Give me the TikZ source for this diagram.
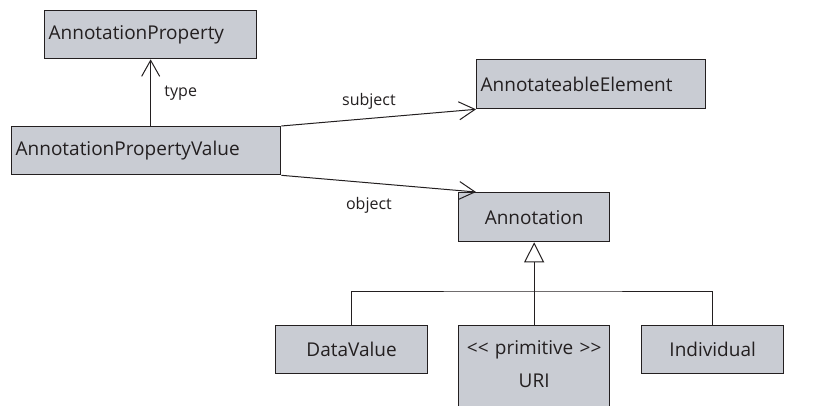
\documentclass[tikz,border=0pt]{standalone}
\usepackage{fontspec}
\setmainfont{Open Sans}
\usetikzlibrary{arrows.meta}
\definecolor{boxfill}{RGB}{201,204,211}
\definecolor{ink}{RGB}{35,31,32}
\begin{document}
\begin{tikzpicture}[x=1pt,y=-1pt,
  cls/.style={draw=ink, fill=boxfill, line width=1.3pt, anchor=north west, inner sep=4pt, text=ink, font=\fontsize{19}{21}\selectfont},
  assoc/.style={draw=ink, line width=1pt, -{Straight Barb[length=16pt,width=18pt,line width=1pt]}},
  gen/.style={draw=ink, line width=1pt, -{Triangle[open,length=20pt,width=20pt,line width=1pt,fill=white]}},
  bar/.style={draw=ink, line width=1pt},
  lbl/.style={text=ink, font=\fontsize{16}{18}\selectfont}]
\clip (0,0) rectangle (830,405);
\node[cls, minimum width=212pt, minimum height=48pt, text width=204pt, align=left] (ap) at (44,10) {AnnotationProperty};
\node[cls, minimum width=269pt, minimum height=48pt, text width=261pt, align=left] (apv) at (11,126) {AnnotationPropertyValue};
\node[cls, minimum width=229pt, minimum height=49pt, text width=221pt, align=left] (ae) at (476,59) {AnnotateableElement};
\node[cls, minimum width=151pt, minimum height=49pt, text width=143pt, align=center] (ann) at (458,192) {Annotation};
\node[cls, minimum width=152pt, minimum height=48pt, text width=144pt, align=center] (dv) at (275,325) {DataValue};
\node[cls, minimum width=151pt, text width=143pt, align=center] (uri) at (458,325) {\rule{0pt}{25pt}<\kern0pt< primitive >\kern0pt>\\[12pt]URI\\[40pt]\mbox{}};
\node[cls, minimum width=142pt, minimum height=48pt, text width=134pt, align=center] (ind) at (641,325) {Individual};
\draw[assoc] (ap.south |- apv.north) -- node[lbl, right=10pt] {type} (ap.south);
\draw[assoc] (apv.north east) -- node[lbl, above=5pt, pos=0.45] {subject} (ae.south west);
\draw[assoc] (apv.south east) -- node[lbl, below=11pt, pos=0.45] {object} (ae.south west |- ann.north);
\coordinate (fork) at (uri.north |- 0,291);
\draw[gen] (uri.north) -- (ann.south);
\draw[bar] (dv.north) |- (fork) -| (ind.north);
\end{tikzpicture}
\end{document}
